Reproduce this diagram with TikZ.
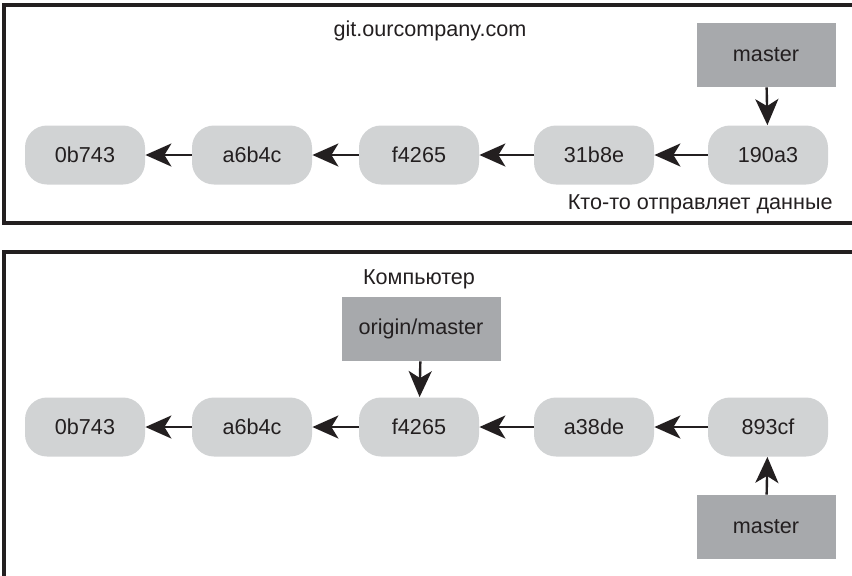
\documentclass[tikz,border=0pt]{standalone}
\usepackage{fontspec}
\setmainfont{Liberation Sans}
\usepackage{tikz}
\usetikzlibrary{arrows.meta}
\definecolor{commitgray}{HTML}{D1D3D4}
\definecolor{branchgray}{HTML}{A7A9AC}
\definecolor{inkgray}{HTML}{231F20}
\tikzstyle{arrow} = [line width=1.2pt,-{Stealth[length=13pt,width=11.5pt,inset=3.5pt]},inkgray]
\tikzstyle{commit} = [fill=commitgray, rounded corners=11pt, minimum width=60pt, minimum height=29.5pt]
\tikzstyle{branch} = [fill=branchgray, minimum height=32pt]
\tikzstyle{frame} = [line width=1.6pt, inkgray]

\begin{document}
\begin{tikzpicture}[x=0.5pt, y=-0.5pt, every node/.style={font=\fontsize{10.8}{13}\selectfont, text=inkgray, inner sep=0pt}]
        \useasboundingbox (0,0) rectangle (852,575);

        % Server
        \draw[frame] (860,5) -- (4,5) -- (4,223) -- (860,223);
        \node (srv) at (430,31) {git.ourcompany.com};
        \node[commit] (s1) at (85,155) {0b743};
        \node[commit] (s2) at (252,155) {a6b4c};
        \node[commit] (s3) at (419,155) {f4265};
        \node[commit] (s4) at (594,155) {31b8e};
        \node[commit] (s5) at (768,155) {190a3};
        \node[branch, minimum width=69.5pt] (smaster) at (766,55) {master};
        \node[anchor=east] (push) at (833,204) {Кто-то отправляет данные};

        % Edges - server
        \draw[arrow] (s2) -- (s1);
        \draw[arrow] (s3) -- (s2);
        \draw[arrow] (s4) -- (s3);
        \draw[arrow] (s5) -- (s4);
        \draw[arrow] (smaster) -- (s5);

        % Computer
        \draw[frame] (860,252) -- (4,252) -- (4,585);
        \node (pc) at (419,279) {Компьютер};
        \node[commit] (c1) at (85,427) {0b743};
        \node[commit] (c2) at (252,427) {a6b4c};
        \node[commit] (c3) at (419,427) {f4265};
        \node[commit] (c4) at (594,427) {a38de};
        \node[commit] (c5) at (768,427) {893cf};
        \node[branch, minimum width=79.5pt] (origin) at (421,329) {origin/master};
        \node[branch, minimum width=69.5pt] (cmaster) at (766,527) {master};

        % Edges - computer
        \draw[arrow] (c2) -- (c1);
        \draw[arrow] (c3) -- (c2);
        \draw[arrow] (c4) -- (c3);
        \draw[arrow] (c5) -- (c4);
        \draw[arrow] (origin) -- (c3);
        \draw[arrow] (cmaster) -- (c5);
      \end{tikzpicture}
\end{document}
